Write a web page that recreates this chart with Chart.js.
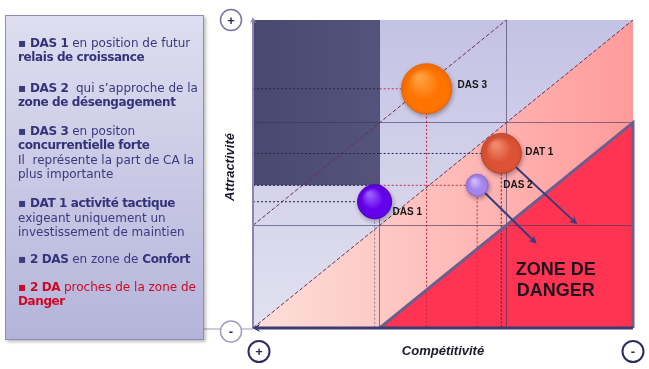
<!DOCTYPE html>
<html>
<head>
<meta charset="utf-8">
<script src="https://cdn.jsdelivr.net/npm/chart.js@4.4.1/dist/chart.umd.min.js"></script>
<style>
html, body { margin: 0; padding: 0; background: #fff; }
#wrap { position: relative; width: 649px; height: 369px; overflow: hidden; }
#myChart { position: absolute; left: 0; top: 0; }
#panel {
    position: absolute; left: 5px; top: 15px; width: 199px; height: 325px;
    border: 1px solid #8e8cb4; box-sizing: border-box;
    background: linear-gradient(#dedef0, #b4b4da);
    box-shadow: 2px 2px 3px rgba(0,0,0,0.25);
    font-family: "DejaVu Sans", sans-serif; font-size: 12px; color: #3a3a7e;
    padding-top: 20px;
}
#panel p { margin: 0 0 0 12px; line-height: 14.3px; white-space: nowrap; }
#panel b { color: #33337a; letter-spacing: -0.4px; }
#panel .red, #panel .red b { color: #cc0a26; }
</style>
</head>
<body>
<div id="wrap">
<canvas id="myChart" width="649" height="369"></canvas>
<div id="panel">
<p>▪ <b>DAS 1</b> en position de futur<br><b>relais de croissance</b></p>
<p style="margin-top:16px">▪ <b>DAS 2</b>&nbsp; qui s’approche de la<br><b>zone de désengagement</b></p>
<p style="margin-top:15px">▪ <b>DAS 3</b> en positon<br><b>concurrentielle forte</b><br>Il&nbsp; représente la part de CA la<br>plus importante</p>
<p style="margin-top:15px">▪ <b>DAT 1 activité tactique</b><br>exigeant uniquement un<br>investissement de maintien</p>
<p style="margin-top:13px">▪ <b>2 DAS</b> en zone de <b>Confort</b></p>
<p class="red" style="margin-top:13px">▪ <b>2 DA</b> proches de la zone de<br><b>Danger</b></p>
</div>
</div>
<script>
const categories = ['DAS 3', 'DAT 1', 'DAS 2', 'DAS 1'];
const competitivite = [1.37, 1.96, 1.77, 0.96];
const attractivite = [2.33, 1.70, 1.39, 1.23];
const tailleBulle = [25, 20, 11, 17];
const cibleX = [null, 2.56, 2.24, null];
const cibleY = [null, 1.01, 0.82, null];
const axisTicks = [0, 1, 2, 3];

const bubbleColors = ['#ff7300', '#dc5234', '#a785ee', '#6400ec'];
const bubbleLight = ['#ffa040', '#f08a6e', '#d2c0ff', '#9a5cff'];
const bubbleBorder = ['#e86400', '#b84428', '#8a6ad0', '#5000c0'];
const guideColors = ['#c8283c', '#2a2a60', '#c8283c', '#8a80a8'];
const labelOffset = [[31, -4], [24, -1], [26, 0], [18, 11]];

function arrow(ctx, x1, y1, x2, y2, size) {
    const a = Math.atan2(y2 - y1, x2 - x1);
    ctx.beginPath();
    ctx.moveTo(x1, y1);
    ctx.lineTo(x2 - Math.cos(a) * size * 0.6, y2 - Math.sin(a) * size * 0.6);
    ctx.stroke();
    ctx.beginPath();
    ctx.moveTo(x2, y2);
    ctx.lineTo(x2 - size * Math.cos(a - 0.45), y2 - size * Math.sin(a - 0.45));
    ctx.lineTo(x2 - size * 0.6 * Math.cos(a), y2 - size * 0.6 * Math.sin(a));
    ctx.lineTo(x2 - size * Math.cos(a + 0.45), y2 - size * Math.sin(a + 0.45));
    ctx.closePath();
    ctx.fill();
}

function poly(ctx, X, Y, pts) {
    ctx.beginPath();
    pts.forEach((p, i) => i ? ctx.lineTo(X(p[0]), Y(p[1])) : ctx.moveTo(X(p[0]), Y(p[1])));
    ctx.closePath();
}

function signCircle(ctx, x, y, txt, stroke, lw) {
    ctx.beginPath();
    ctx.arc(x, y, 10.5, 0, Math.PI * 2);
    ctx.fillStyle = '#fff';
    ctx.fill();
    ctx.lineWidth = lw;
    ctx.strokeStyle = stroke;
    ctx.stroke();
    ctx.fillStyle = '#2a2a5a';
    ctx.font = 'bold 13px "Liberation Sans"';
    ctx.textAlign = 'center';
    ctx.textBaseline = 'middle';
    ctx.fillText(txt, x, y + 1);
}

const zonePlugin = {
    id: 'zones',
    beforeDraw(chart) {
        const ctx = chart.ctx, a = chart.chartArea;
        const X = v => chart.scales.x.getPixelForValue(v);
        const Y = v => chart.scales.y.getPixelForValue(v);
        ctx.save();
        // zone confort (lavande)
        let g = ctx.createLinearGradient(0, a.top, 0, a.bottom);
        g.addColorStop(0, '#c4c2e4');
        g.addColorStop(1, '#e2e1f0');
        ctx.fillStyle = g;
        ctx.fillRect(a.left, a.top, a.right - a.left, a.bottom - a.top);
        // bande rose sous la diagonale
        g = ctx.createLinearGradient(a.left, 0, a.right, 0);
        g.addColorStop(0, '#fde0da');
        g.addColorStop(1, '#ff9a9a');
        ctx.fillStyle = g;
        poly(ctx, X, Y, [[0, 0], [3, 3], [3, 0]]);
        ctx.fill();
        // zone de danger
        ctx.fillStyle = '#fe3452';
        poly(ctx, X, Y, [[1, 0], [3, 2], [3, 0]]);
        ctx.fill();
        // bloc sombre
        g = ctx.createLinearGradient(X(0), 0, X(1), 0);
        g.addColorStop(0, '#49486e');
        g.addColorStop(1, '#54537c');
        ctx.fillStyle = g;
        ctx.fillRect(X(0), Y(3), X(1) - X(0), Y(1.39) - Y(3));
        ctx.restore();
    },
    beforeDatasetsDraw(chart) {
        const ctx = chart.ctx;
        const X = v => chart.scales.x.getPixelForValue(v);
        const Y = v => chart.scales.y.getPixelForValue(v);
        ctx.save();
        // diagonales pointillées
        ctx.setLineDash([4, 2]);
        ctx.lineWidth = 1;
        ctx.strokeStyle = '#6a3050';
        ctx.beginPath();
        ctx.moveTo(X(0), Y(0)); ctx.lineTo(X(3), Y(3));
        ctx.moveTo(X(0), Y(1)); ctx.lineTo(X(2), Y(3));
        ctx.stroke();
        // repères de chaque bulle
        ctx.setLineDash([2, 2]);
        categories.forEach((c, i) => {
            const px = X(competitivite[i]), py = Y(attractivite[i]);
            ctx.strokeStyle = '#262640';
            ctx.beginPath();
            ctx.moveTo(X(0), py); ctx.lineTo(Math.min(X(1), px), py);
            ctx.stroke();
            ctx.strokeStyle = guideColors[i];
            ctx.beginPath();
            if (px > X(1)) { ctx.moveTo(X(1), py); ctx.lineTo(px, py); }
            ctx.moveTo(px, py); ctx.lineTo(px, Y(0));
            ctx.stroke();
        });
        ctx.setLineDash([]);
        // bord de la zone de danger
        ctx.strokeStyle = '#6c5e8e';
        ctx.lineWidth = 3;
        ctx.beginPath();
        ctx.moveTo(X(1), Y(0)); ctx.lineTo(X(3), Y(2)); ctx.lineTo(X(3), Y(0));
        ctx.stroke();
        // axes
        ctx.strokeStyle = '#8a86b4';
        ctx.fillStyle = '#8a86b4';
        ctx.lineWidth = 2;
        arrow(ctx, X(0), Y(0), X(0), Y(3) - 3, 7);
        ctx.strokeStyle = '#9a98a8';
        ctx.lineWidth = 1;
        ctx.beginPath();
        ctx.moveTo(204, Y(0) + 1); ctx.lineTo(X(0), Y(0) + 1);
        ctx.stroke();
        ctx.strokeStyle = '#3b3b72';
        ctx.fillStyle = '#3b3b72';
        ctx.lineWidth = 3;
        arrow(ctx, X(3), Y(0), X(0) - 1, Y(0), 9);
        // flèches d'évolution
        ctx.strokeStyle = '#3a3a7c';
        ctx.fillStyle = '#3a3a7c';
        ctx.lineWidth = 2;
        categories.forEach((c, i) => {
            if (cibleX[i] === null) return;
            arrow(ctx, X(competitivite[i]), Y(attractivite[i]), X(cibleX[i]), Y(cibleY[i]), 9);
        });
        ctx.restore();
    },
    beforeDatasetDraw(chart) {
        const ctx = chart.ctx;
        ctx.shadowColor = 'rgba(40,20,40,0.35)';
        ctx.shadowBlur = 4;
        ctx.shadowOffsetX = 1;
        ctx.shadowOffsetY = 2;
    },
    afterDatasetDraw(chart) {
        const ctx = chart.ctx;
        ctx.shadowColor = 'rgba(0,0,0,0)';
        ctx.shadowBlur = 0;
        ctx.shadowOffsetX = 0;
        ctx.shadowOffsetY = 0;
    },
    afterDatasetsDraw(chart) {
        const ctx = chart.ctx;
        const X = v => chart.scales.x.getPixelForValue(v);
        const Y = v => chart.scales.y.getPixelForValue(v);
        ctx.save();
        ctx.fillStyle = '#161616';
        ctx.font = 'bold 10px "Liberation Sans"';
        ctx.textAlign = 'left';
        ctx.textBaseline = 'middle';
        categories.forEach((c, i) => {
            ctx.fillText(c, X(competitivite[i]) + labelOffset[i][0], Y(attractivite[i]) + labelOffset[i][1]);
        });
        ctx.font = 'bold 18px "Liberation Sans"';
        ctx.textAlign = 'center';
        ctx.fillStyle = '#1e1420';
        ctx.fillText('ZONE DE', X(2.39), Y(0.46) - 10.5);
        ctx.fillText('DANGER', X(2.39), Y(0.46) + 10.5);
        // titres d'axes
        ctx.fillStyle = '#1a1a2a';
        ctx.font = 'italic bold 13px "Liberation Sans"';
        ctx.fillText('Compétitivité', (X(0) + X(3)) / 2, 351);
        ctx.translate(230, 167);
        ctx.rotate(-Math.PI / 2);
        ctx.fillText('Attractivité', 0, 0);
        ctx.restore();
        ctx.save();
        signCircle(ctx, 231, 20, '+', '#7a72a8', 1.5);
        signCircle(ctx, 231, 331.5, '-', '#a09cc4', 1.5);
        signCircle(ctx, 259, 351.5, '+', '#2e2e5e', 2);
        signCircle(ctx, 633, 351.5, '-', '#2e2e5e', 2);
        ctx.restore();
    }
};

const myChart = new Chart(document.getElementById('myChart').getContext('2d'), {
    type: 'bubble',
    data: {
        labels: categories,
        datasets: [{
            data: categories.map((c, i) => ({ x: competitivite[i], y: attractivite[i], r: tailleBulle[i] })),
            backgroundColor: function(context) {
                const i = context.dataIndex;
                const chart = context.chart;
                if (context.type !== 'data' || !chart.chartArea) return bubbleColors[i];
                const x = chart.scales.x.getPixelForValue(competitivite[i]);
                const y = chart.scales.y.getPixelForValue(attractivite[i]);
                const r = tailleBulle[i];
                const g = chart.ctx.createRadialGradient(x - r * 0.3, y - r * 0.45, r * 0.1, x, y, r);
                g.addColorStop(0, bubbleLight[i]);
                g.addColorStop(0.6, bubbleColors[i]);
                g.addColorStop(1, bubbleColors[i]);
                return g;
            },
            borderColor: bubbleBorder,
            borderWidth: 1,
            hoverRadius: 0
        }]
    },
    options: {
        responsive: false,
        animation: false,
        devicePixelRatio: 1,
        events: [],
        layout: { autoPadding: false, padding: { left: 253, right: 16, top: 20, bottom: 41 } },
        plugins: { legend: { display: false }, tooltip: { enabled: false } },
        scales: {
            x: {
                type: 'linear', min: axisTicks[0], max: axisTicks[axisTicks.length - 1],
                afterBuildTicks: s => { s.ticks = axisTicks.map(v => ({ value: v })); },
                ticks: { display: false },
                border: { display: false },
                grid: { drawTicks: false, color: c => (c.tick && c.tick.value > 0 && c.tick.value < 3) ? 'rgba(60,50,95,0.6)' : 'rgba(0,0,0,0)' }
            },
            y: {
                type: 'linear', min: axisTicks[0], max: axisTicks[axisTicks.length - 1],
                afterBuildTicks: s => { s.ticks = axisTicks.map(v => ({ value: v })); },
                ticks: { display: false },
                border: { display: false },
                grid: { drawTicks: false, color: c => (c.tick && c.tick.value > 0 && c.tick.value < 3) ? 'rgba(60,50,95,0.6)' : 'rgba(0,0,0,0)' }
            }
        }
    },
    plugins: [zonePlugin]
});
</script>
</body>
</html>
